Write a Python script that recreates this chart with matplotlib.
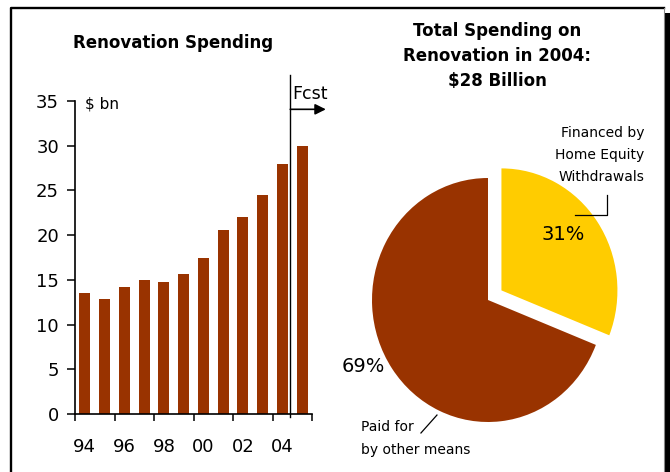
import numpy as np
import matplotlib
matplotlib.use('Agg')
import matplotlib.pyplot as plt
from matplotlib.lines import Line2D
from matplotlib.patches import Rectangle

plt.rcParams['font.family'] = ['DejaVu Sans']

years = ['94', '95', '96', '97', '98', '99', '00', '01', '02', '03', '04', '05']
spending = [13.5, 12.9, 14.2, 15.0, 14.8, 15.6, 17.4, 20.6, 22.0, 24.5, 27.9, 30.0]

share_labels = ['Financed by\nHome Equity\nWithdrawals', 'Paid for\nby other means']
shares = [31, 69]

BROWN = '#993300'
YELLOW = '#FFCC00'

W, H = 670, 472
fig = plt.figure(figsize=(W / 100, H / 100), dpi=100)


def fx(px):
    return px / W


def fy(py):
    return 1 - py / H


# frame with a dark drop shadow on the right
fig.add_artist(Line2D([fx(11), fx(11), fx(664)], [0, fy(8), fy(8)],
                      transform=fig.transFigure, color='black', lw=1.7))
fig.add_artist(Line2D([fx(663.5), fx(663.5)], [0, fy(8)],
                      transform=fig.transFigure, color='#888888', lw=0.8))
fig.add_artist(Rectangle((fx(665), 0), fx(6), fy(13),
                         transform=fig.transFigure, color='black', lw=0))

# ---- bar chart ----
ax = fig.add_axes([fx(75), fy(414), 237 / W, 313 / H])
x = np.arange(len(years))
ax.bar(x, spending, width=0.56, color=BROWN)
ax.set_xlim(-0.5, len(years) - 0.5)
ax.set_ylim(0, 35)
ax.set_yticks(range(0, 36, 5))
ax.set_xticks(np.arange(-0.5, len(years), 2))
ax.set_xticks(x[::2], labels=years[::2], minor=True)
ax.tick_params(axis='x', which='major', length=5, width=1.1, labelbottom=False)
ax.tick_params(axis='x', which='minor', length=0, pad=17, labelsize=13)
ax.tick_params(axis='y', length=5.5, width=1.1, pad=6, labelsize=13)
for s in ['top', 'right']:
    ax.spines[s].set_visible(False)
for s in ['left', 'bottom']:
    ax.spines[s].set_linewidth(1.2)

ax.text(0.0, 34.7, r'\$ bn', ha='left', va='center', fontsize=11)

# forecast marker
ax.plot([10.4, 10.4], [-0.3, 37.9], color='black', lw=1, clip_on=False)
ax.annotate('', xy=(12.2, 34.07), xytext=(10.4, 34.07),
            arrowprops=dict(arrowstyle='-|>', color='black', lw=1.2,
                            mutation_scale=16, shrinkA=0, shrinkB=0),
            annotation_clip=False)
ax.text(10.5, 35.8, 'Fcst', ha='left', va='center', fontsize=12.5)

fig.text(fx(173), fy(43), 'Renovation Spending', ha='center', va='center',
         fontsize=12, fontweight='bold')

# ---- pie chart ----
rx, ry = 116, 122
cx, cy = 488, 300
pax = fig.add_axes([fx(cx - 1.4 * rx), fy(cy + 1.3 * ry), 2.8 * rx / W, 2.6 * ry / H])
pax.pie(shares, colors=[YELLOW, BROWN], startangle=90, counterclock=False,
        explode=[0.14, 0], radius=1)
pax.set_aspect('auto')
pax.set_xlim(-1.4, 1.4)
pax.set_ylim(-1.3, 1.3)

pax.text(0.647, 0.533, f'{shares[0]}%', ha='center', va='center', fontsize=14)
pax.text(-1.078, -0.549, f'{shares[1]}%', ha='center', va='center', fontsize=14)

pax.text(1.345, 1.189, share_labels[0], ha='right', va='center', fontsize=10,
         linespacing=1.75, clip_on=False)
pax.plot([1.026, 1.026, 0.750], [0.861, 0.697, 0.697], color='black', lw=0.9,
         clip_on=False)

pax.text(-1.095, -1.135, share_labels[1], ha='left', va='center', fontsize=10,
         linespacing=1.75, clip_on=False)
pax.plot([-0.578, -0.440], [-1.090, -0.943], color='black', lw=0.9, clip_on=False)

fig.text(fx(497), fy(56), 'Total Spending on\nRenovation in 2004:\n$28 Billion',
         ha='center', va='center', fontsize=12, fontweight='bold',
         linespacing=1.49)

fig.savefig('out.png', dpi=100)
